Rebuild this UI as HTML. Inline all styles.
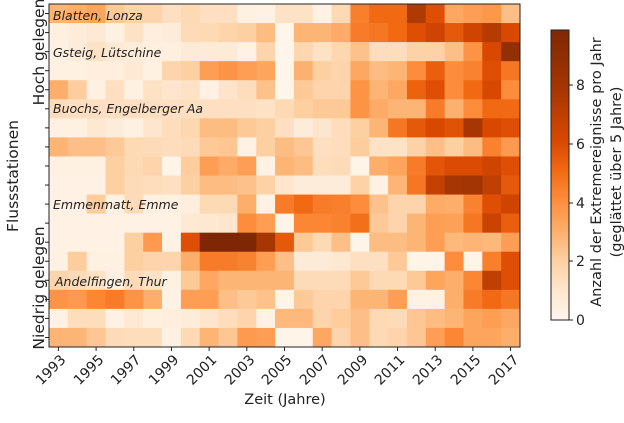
<!DOCTYPE html>
<html><head><meta charset="utf-8"><style>
body{margin:0;background:#fff;}
svg{display:block;font-family:"DejaVu Sans","Liberation Sans",sans-serif;}
</style></head><body>
<svg id="s" width="624" height="423" viewBox="0 0 624 423" xmlns="http://www.w3.org/2000/svg">
<defs><linearGradient id="cb" x1="0" y1="1" x2="0" y2="0">
<stop offset="0" stop-color="#fff5eb"/><stop offset="0.1031" stop-color="#fee6ce"/><stop offset="0.2062" stop-color="#fdd0a2"/><stop offset="0.3093" stop-color="#fdae6b"/><stop offset="0.4124" stop-color="#fd8d3c"/><stop offset="0.5155" stop-color="#f16913"/><stop offset="0.6186" stop-color="#d94801"/><stop offset="0.7938" stop-color="#a63603"/><stop offset="1" stop-color="#7f2704"/></linearGradient></defs>
<g id="cells"></g>
<rect x="49" y="4" width="471" height="343" fill="none" stroke="#222" stroke-width="1"/>
<g id="ticks" stroke="#222" stroke-width="1"></g>
<g font-style="italic" font-size="12.5" fill="#222">
<text x="53" y="20">Blatten, Lonza</text>
<text x="53" y="57">Gsteig, Lütschine</text>
<text x="53" y="113">Buochs, Engelberger Aa</text>
<text x="53" y="209">Emmenmatt, Emme</text>
<text x="55" y="286">Andelfingen, Thur</text>
</g>
<g font-size="15.5" fill="#222" text-anchor="middle">
<text transform="translate(39,52) rotate(-90)" dy="5">Hoch gelegen</text>
<text transform="translate(13,176) rotate(-90)" dy="5">Flussstationen</text>
<text transform="translate(39,288) rotate(-90)" dy="5">Niedrig gelegen</text>
</g>
<text x="285" y="404" font-size="14.5" fill="#222" text-anchor="middle">Zeit (Jahre)</text>
<g font-size="14" fill="#222" text-anchor="end">
<text transform="translate(63,357) rotate(-45)" dy="5">1993</text>
<text transform="translate(101,357) rotate(-45)" dy="5">1995</text>
<text transform="translate(138,357) rotate(-45)" dy="5">1997</text>
<text transform="translate(176,357) rotate(-45)" dy="5">1999</text>
<text transform="translate(214,357) rotate(-45)" dy="5">2001</text>
<text transform="translate(252,357) rotate(-45)" dy="5">2003</text>
<text transform="translate(289,357) rotate(-45)" dy="5">2005</text>
<text transform="translate(327,357) rotate(-45)" dy="5">2007</text>
<text transform="translate(365,357) rotate(-45)" dy="5">2009</text>
<text transform="translate(402,357) rotate(-45)" dy="5">2011</text>
<text transform="translate(440,357) rotate(-45)" dy="5">2013</text>
<text transform="translate(478,357) rotate(-45)" dy="5">2015</text>
<text transform="translate(516,357) rotate(-45)" dy="5">2017</text>
</g>
<rect x="551" y="30" width="18" height="290" fill="url(#cb)" stroke="#222" stroke-width="1"/>
<g stroke="#222"><line x1="569" y1="320" x2="573" y2="320"/><line x1="569" y1="261" x2="573" y2="261"/><line x1="569" y1="203" x2="573" y2="203"/><line x1="569" y1="144" x2="573" y2="144"/><line x1="569" y1="85" x2="573" y2="85"/></g>
<g font-size="14" fill="#222"><text x="576" y="325">0</text><text x="576" y="266">2</text><text x="576" y="208">4</text><text x="576" y="149">6</text><text x="576" y="90">8</text></g>
<g font-size="14.5" fill="#222" text-anchor="middle">
<text transform="translate(596,172) rotate(-90)" dy="5">Anzahl der Extremereignisse pro Jahr</text>
<text transform="translate(616,172) rotate(-90)" dy="5">(geglättet über 5 Jahre)</text>
</g>
</svg>
<script>
var D=[
[2.8,3,3.3,2.2,1.8,1.8,1.3,1.6,1.3,1.3,0.3,0.2,1.2,1.2,0.2,1.6,4.4,5,5,6.8,5.8,3.2,3.5,3.7,2.5],
[0.4,0.6,0.8,0.3,1.2,0.5,0.6,1.5,1.6,1.8,2,2.6,0,2.8,2.8,3.1,4.5,4.6,5,5.8,6.2,5.5,6.2,6.7,6],
[0.3,0.6,1.2,0.8,0.6,0.4,0.4,0.7,0.7,0.7,0.2,1.8,0,1.7,1.2,1.7,2.4,1.4,1.4,1.9,1.9,2.5,3.8,6,7.5],
[0.3,0.3,0.5,0.5,0.8,0.3,1.8,2,3.5,3.8,3.5,3.3,0,2.9,2,1.8,3.2,2.6,2.8,4,5.3,4,4.3,5.8,4.6],
[3,2.1,0.3,1.3,0.3,1.2,1,1.2,0.2,1.1,1.4,2.4,0,2.2,1.8,1.8,3.8,2.8,3.2,5.2,5.8,4,5,6,4],
[1.4,1.3,1.3,1.3,1.3,1.3,1.3,1.3,1.3,1.3,1.3,1.2,1.6,2,2.2,2.2,3.8,3.1,2.8,2.8,4.5,2.9,4,5,5],
[0.3,0.3,0.9,0.6,0.3,1,1.4,1.7,2.6,2.6,2.2,2,1.3,0.6,1,1.4,2,2.8,4.6,5.5,6,5.7,7,6,5.8],
[2.8,2.5,2.5,2.2,1.6,1.5,1.4,1.5,2.2,2.3,0.2,2,2.6,2.3,1.3,1.4,2.1,1.2,1.2,1.9,2.5,2,2.6,4.3,3.6],
[0.3,0.3,0.3,2,1.6,1.8,0.1,2.1,3.5,3.1,3.5,0.2,2.8,2.6,1.4,1.5,0.1,3,3.3,4.5,5.6,5.9,5.9,6.2,5.8],
[0.2,0.2,0.2,2,1.5,1.4,1.3,2,2.6,2.6,2.4,1.9,1,0.6,0.6,0.6,1.9,0.2,2.8,4.6,6.4,7,7.1,6.5,5.5],
[0.2,0.2,2.1,0.3,1.5,0.3,0.3,0.5,1.6,1.6,3,0.2,4.5,5,4.5,4.4,4,2.4,1.8,1.8,3.1,3,4.3,5.8,6.2],
[0.2,0.2,0.2,0.2,0.2,0.2,0.2,0.8,0.9,1,4,3.5,0.1,4.2,4.2,4.3,4.8,2.2,1.8,2.8,3.5,3.4,4.6,6.3,5.3],
[0.2,0.2,0.2,0.2,2,3.6,0.2,5.8,9,9,8,7,5.5,2.2,1.6,2.5,0.1,2.6,2.6,2.8,3.5,2.7,2.8,2.7,3.5],
[0.3,2.1,0.3,0.3,2,1.8,1.8,3,4.5,4.5,4.3,3.5,2.5,0.7,0.7,0.9,1.3,1.3,2.2,0.1,0.1,4,0.1,4.4,5.8],
[1.8,1.5,1.2,0.3,1.5,1.2,0.3,2.2,3.2,2.8,2.8,2.8,2.8,1.5,1.5,1.5,2.2,1.6,1.6,2.2,3.3,3,4.2,6.5,5.8],
[3.8,3.6,4.2,4.5,3.8,3,0.2,3.5,3.5,2.5,2.2,2.4,0.1,2.2,1.8,1.8,2.8,2.8,3.5,0.2,0.2,3,4.5,5,4.6],
[0.2,1.4,1.4,0.2,0.8,0.4,0.5,0.6,1,1.4,1.8,0.2,2.7,2.7,1.8,2.1,2.5,1.6,1.5,2.3,2.6,2.8,3.3,3.5,3.2],
[2.8,2.8,2.3,1.5,1.4,1.4,0.3,1.6,2.8,2.3,3.6,3.5,0.1,0.1,3.2,1.8,2.5,1.6,1.8,2.3,3.5,4.2,3.3,3.3,3]];
var S=["#fff5eb","#fee6ce","#fdd0a2","#fdae6b","#fd8d3c","#f16913","#d94801","#a63603","#7f2704"];
function h(c){return [parseInt(c.substr(1,2),16),parseInt(c.substr(3,2),16),parseInt(c.substr(5,2),16)];}
function col(v){v=Math.max(0,Math.min(8,v));var i=Math.min(7,Math.floor(v)),f=v-i,a=h(S[i]),b=h(S[i+1]);
return "rgb("+a.map(function(x,k){return Math.round(x+(b[k]-x)*f)}).join(",")+")";}
var ns="http://www.w3.org/2000/svg",g=document.getElementById("cells"),t=document.getElementById("ticks");
var cw=471/25,rh=343/18;
for(var r=0;r<18;r++){for(var c=0;c<25;c++){var e=document.createElementNS(ns,"rect");
e.setAttribute("x",49+c*cw);e.setAttribute("y",4+r*rh);e.setAttribute("width",cw+0.5);e.setAttribute("height",rh+0.5);
e.setAttribute("fill",col(D[r][c]));g.appendChild(e);}
var l=document.createElementNS(ns,"line");var y=4+(r+0.5)*rh;l.setAttribute("x1",45);l.setAttribute("x2",49);l.setAttribute("y1",y);l.setAttribute("y2",y);t.appendChild(l);}
for(var c=0;c<25;c+=2){var l=document.createElementNS(ns,"line");var x=49+(c+0.5)*cw;l.setAttribute("x1",x);l.setAttribute("x2",x);l.setAttribute("y1",347);l.setAttribute("y2",351);t.appendChild(l);}
</script>
</body></html>
